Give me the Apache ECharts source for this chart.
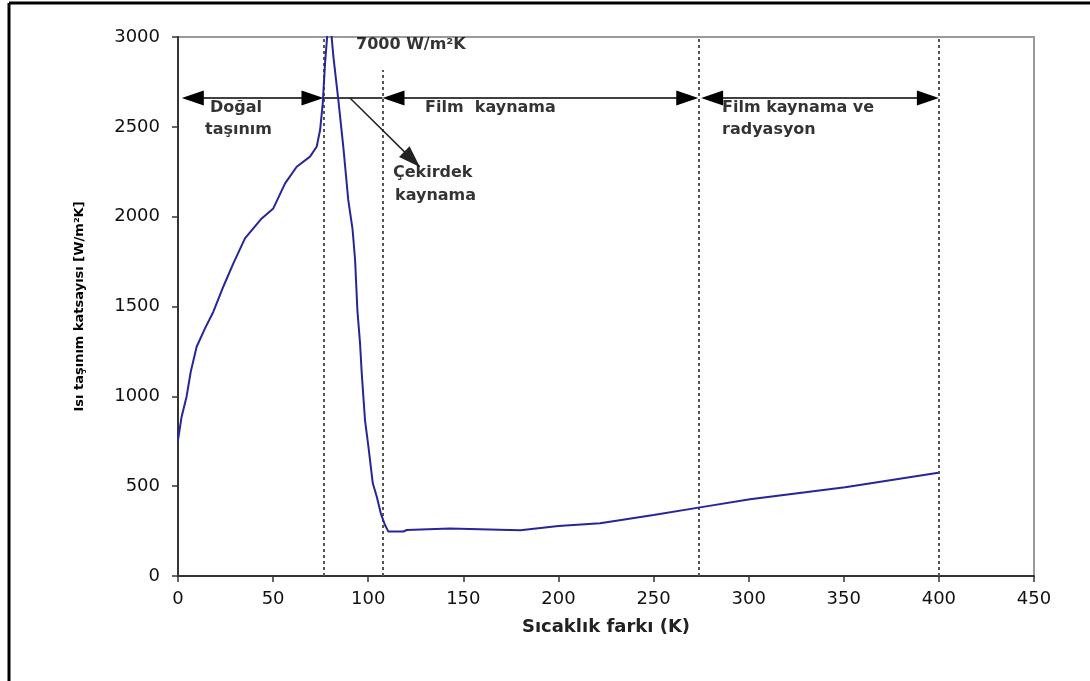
<!DOCTYPE html>
<html>
<head>
<meta charset="utf-8">
<script src="https://cdn.jsdelivr.net/npm/echarts@6/dist/echarts.min.js"></script>
<style>html,body{margin:0;padding:0;background:#fff;}#c{width:1090px;height:681px;}</style>
</head>
<body>
<div id="c"></div>
<script>
// Curve: temperature difference (K) vs heat transfer coefficient (W/m²K)
const tempDiff = [0, 1.9, 4.5, 6.7, 9.8, 14.2, 18.6, 23.8, 29.1, 35.2, 39.6, 44, 50.1, 56.3, 62.4, 69.4, 72.9, 74.7, 76.1, 77.3, 79.5, 81.7, 84.3, 86.9, 89.5, 91.8, 93.1, 94.3, 95.7, 96.6, 98.3, 100.1, 102.4, 104.5, 106.6, 108.8, 110.6, 118.5, 120.2, 143, 169, 180, 200, 221.9, 250, 274.4, 300.7, 350.7, 399.7];
const heatCoef = [757, 887, 998, 1137, 1276, 1378, 1471, 1610, 1740, 1879, 1935, 1990, 2046, 2185, 2278, 2334, 2389, 2482, 2631, 2853, 3150, 2890, 2649, 2389, 2093, 1926, 1759, 1480, 1295, 1128, 868, 720, 516, 441, 349, 284, 247, 247, 256, 265, 258, 255, 278, 293, 340, 382, 427, 494, 575];

// Regime boundaries (dashed verticals) and their top value
const boundaries = [76.5, 107.5, 274, 400];
const boundaryTops = [3000, 2816, 3000, 3000];

// Double-headed arrows at a common level
const arrowLevel = 2660;
const arrowSpans = [[2, 76.5], [107.5, 273.5], [275, 400]];
const connectorSpan = [76.5, 107.5];
// Diagonal pointer to "Çekirdek kaynama"
const pointerFrom = [90.4, 2660];
const pointerTo = [127.2, 2276];

// Annotation texts
const noteText = ['7000 W/m²K', 'Doğal', 'taşınım', 'Film  kaynama', 'Çekirdek', 'kaynama', 'Film kaynama ve', 'radyasyon'];
const noteX = [93.6, 16.8, 14.2, 129.9, 113, 114.1, 286, 286];
const noteY = [2955, 2605, 2482, 2605, 2243, 2115, 2605, 2482];

const xTicks = [0, 450, 50];
const yTicks = [0, 3000, 500];

const ARROW_W = 15, ARROW_L = 22;

const chart = echarts.init(document.getElementById('c'), null, {renderer: 'canvas'});

const curveData = tempDiff.map((x, i) => [x, heatCoef[i]]);
const vLines = boundaries.map((x, i) => [{coord: [x, 0]}, {coord: [x, boundaryTops[i]]}]);
const notes = noteText.map((t, i) => ({name: t, value: [noteX[i], noteY[i]]}));

function baseOption(arrowData, pointerData) {
  return {
    animation: false,
    backgroundColor: '#ffffff',
    grid: {left: 178, right: 56, top: 37, bottom: 105, show: true, borderColor: '#9a9a9a', borderWidth: 2, backgroundColor: 'transparent'},
    xAxis: {
      type: 'value', min: xTicks[0], max: xTicks[1], interval: xTicks[2],
      name: 'Sıcaklık farkı (K)', nameLocation: 'middle', nameGap: 42,
      nameTextStyle: {fontFamily: 'DejaVu Sans', fontWeight: 'bold', fontSize: 18, color: '#222'},
      axisLine: {lineStyle: {color: '#333', width: 2}},
      axisTick: {length: 6, lineStyle: {color: '#333', width: 1.5}},
      axisLabel: {fontFamily: 'DejaVu Sans', fontSize: 18, color: '#111', margin: 14, formatter: v => String(v)},
      splitLine: {show: false}
    },
    yAxis: {
      type: 'value', min: yTicks[0], max: yTicks[1], interval: yTicks[2],
      name: 'Isı taşınım katsayısı [W/m²K]', nameLocation: 'middle', nameGap: 92,
      nameTextStyle: {fontFamily: 'DejaVu Sans', fontWeight: 'bold', fontSize: 13, color: '#000'},
      axisLine: {lineStyle: {color: '#333', width: 2}},
      axisTick: {length: 6, lineStyle: {color: '#333', width: 1.5}},
      axisLabel: {fontFamily: 'DejaVu Sans', fontSize: 18, color: '#111', margin: 18, formatter: v => String(v)},
      splitLine: {show: false}
    },
    graphic: [
      {type: 'line', shape: {x1: 9, y1: 3, x2: 1090, y2: 3}, style: {stroke: '#000', lineWidth: 3}},
      {type: 'line', shape: {x1: 9, y1: 3, x2: 9, y2: 681}, style: {stroke: '#000', lineWidth: 3}}
    ],
    series: [
      {
        type: 'line', data: [], silent: true,
        markLine: {
          silent: true, symbol: 'none', animation: false,
          label: {show: false},
          lineStyle: {color: '#555', width: 2, type: [3, 3]},
          data: vLines
        }
      },
      {
        type: 'line', data: [], silent: true,
        markLine: {
          silent: true, symbol: ['triangle', 'triangle'], symbolSize: [ARROW_W, ARROW_L], animation: false,
          label: {show: false},
          lineStyle: {color: '#000', width: 1.5, type: 'solid'},
          itemStyle: {color: '#000'},
          data: arrowData
        }
      },
      {
        type: 'line', data: [], silent: true,
        markLine: {
          silent: true, symbol: ['none', 'none'], animation: false,
          label: {show: false},
          lineStyle: {color: '#000', width: 1.5, type: 'solid'},
          data: [[{coord: [connectorSpan[0], arrowLevel]}, {coord: [connectorSpan[1], arrowLevel]}]]
        }
      },
      {
        type: 'line', data: [], silent: true,
        markLine: {
          silent: true, symbol: ['none', 'triangle'], symbolSize: [ARROW_W, ARROW_L], animation: false,
          label: {show: false},
          lineStyle: {color: '#222', width: 1.5, type: 'solid'},
          itemStyle: {color: '#111'},
          data: pointerData
        }
      },
      {
        type: 'line', data: curveData, showSymbol: false, clip: true,
        lineStyle: {color: '#26269a', width: 2},
        z: 5
      },
      {
        type: 'scatter', data: notes, symbolSize: 0, silent: true, z: 6,
        label: {
          show: true, position: 'right', distance: 0, formatter: p => p.name,
          fontFamily: 'DejaVu Sans', fontWeight: 'bold', fontSize: 16, color: '#000',
          align: 'left', verticalAlign: 'middle'
        }
      }
    ]
  };
}

// First pass: plain spans, so the scales exist
const rawArrows = arrowSpans.map(s => [{coord: [s[0], arrowLevel]}, {coord: [s[1], arrowLevel]}]);
const rawPointer = [[{coord: pointerFrom}, {coord: pointerTo}]];
chart.setOption(baseOption(rawArrows, rawPointer));

// Pull each arrow end inward by half the arrowhead length so the tip lands on the point
function pull(p, toward, px) {
  const a = chart.convertToPixel({gridIndex: 0}, p);
  const b = chart.convertToPixel({gridIndex: 0}, toward);
  const dx = b[0] - a[0], dy = b[1] - a[1];
  const L = Math.hypot(dx, dy) || 1;
  return chart.convertFromPixel({gridIndex: 0}, [a[0] + dx / L * px, a[1] + dy / L * px]);
}
const half = ARROW_L / 2;
const arrows = arrowSpans.map(s => {
  const p1 = [s[0], arrowLevel], p2 = [s[1], arrowLevel];
  return [{coord: pull(p1, p2, half)}, {coord: pull(p2, p1, half)}];
});
const pointer = [[{coord: pointerFrom}, {coord: pull(pointerTo, pointerFrom, half)}]];
chart.setOption(baseOption(arrows, pointer));
</script>
</body>
</html>
